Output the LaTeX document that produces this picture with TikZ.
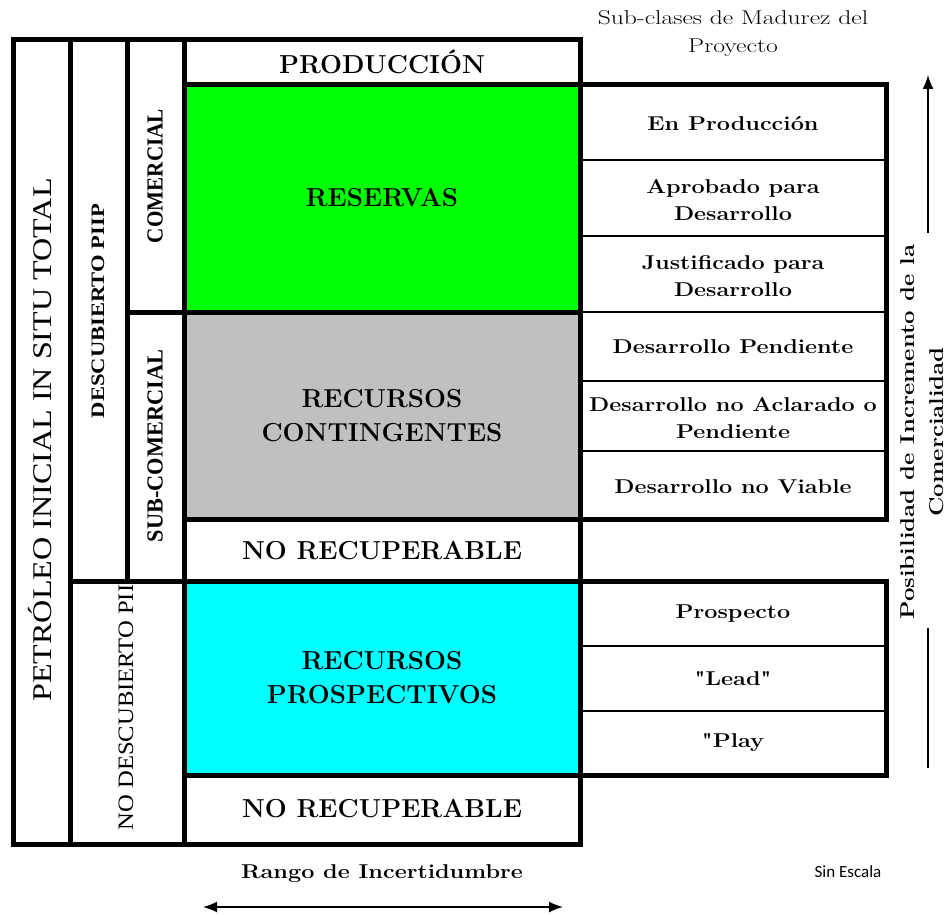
\documentclass[tikz,border=0pt]{standalone}
\usepackage{fontspec}
\newfontfamily\carlito{Carlito}
\newfontfamily\timesfont{Liberation Serif}
\usetikzlibrary{arrows.meta}
\definecolor{contgray}{RGB}{192,192,192}
\definecolor{resgreen}{RGB}{0,255,0}
\definecolor{prospcyan}{RGB}{0,255,255}

\begin{document}
\begin{tikzpicture}
  [x=1pt,y=-1pt,
   thickline/.style={line width=5pt},
   thinline/.style={line width=2.8pt},
   arrowline/.style={line width=1.6pt},
   widen/.style={xscale=#1, transform shape},
   biglabel/.style={font=\fontsize{26}{34}\selectfont\bfseries, align=center},
   sublabel/.style={font=\fontsize{20}{27}\selectfont\bfseries, align=center},
   sidelabel/.style={rotate=90, align=center}]
  \useasboundingbox (0,0) rectangle (951,915);

  % fills
  \fill[resgreen]  (184,85)  rectangle (580,312);
  \fill[contgray]  (184,312) rectangle (580,519);
  \fill[prospcyan] (184,581) rectangle (580,775);

  % frame and columns
  \draw[thickline] (13,40) rectangle (580,844);
  \foreach \x/\ya/\yb in {70/40/844, 127/40/581, 184/40/844}
    \draw[thickline] (\x,\ya) -- (\x,\yb);
  \foreach \xa/\y in {184/85, 127/312, 184/519, 70/581, 184/775}
    \draw[thickline] (\xa,\y) -- (580,\y);

  % sub-class tables
  \draw[thickline] (580,85) rectangle (886,519);
  \draw[thickline] (580,581) rectangle (886,775);
  \foreach \y in {160,236,312,381,451,646,711}
    \draw[thinline] (580,\y) -- (886,\y);

  % main labels
  \node[biglabel] (prod)   at (382,62)  {PRODUCCIÓN};
  \node[biglabel] (res)    at (382,198) {RESERVAS};
  \node[biglabel] (cont)   at (382,416) {RECURSOS\\CONTINGENTES};
  \node[biglabel] (norecA) at (382,551) {NO RECUPERABLE};
  \node[biglabel] (prosp)  at (382,678) {RECURSOS\\PROSPECTIVOS};
  \node[biglabel] (norecB) at (382,809) {NO RECUPERABLE};

  % sub-class labels
  \foreach \name/\y/\txt in {enprod/124/{En Producción},
      aprob/200/{Aprobado para\\Desarrollo},
      justif/276/{Justificado para\\Desarrollo},
      pend/347/{Desarrollo Pendiente},
      aclar/418/{Desarrollo no Aclarado o\\Pendiente},
      noviab/487/{Desarrollo no Viable},
      prospecto/614/{Prospecto},
      lead/679/{\textquotedbl Lead\textquotedbl},
      play/743/{\textquotedbl Play}}
    \node[sublabel, widen=1.17] (\name) at (733,\y) {\txt};

  % side labels
  \node[sidelabel, font=\fontsize{27}{30}\timesfont] (total) at (40,440)
    {\scalebox{1.19}[1]{PETRÓLEO INICIAL IN SITU TOTAL}};
  \node[sidelabel, font=\fontsize{19}{22}\timesfont\bfseries] (desc) at (98,311)
    {\scalebox{1.19}[1]{DESCUBIERTO PIIP}};
  \node[sidelabel, font=\fontsize{23}{26}\timesfont\bfseries] (com) at (155,176)
    {\scalebox{0.92}[1]{COMERCIAL}};
  \node[sidelabel, font=\fontsize{23}{26}\timesfont\bfseries] (subcom) at (155,446)
    {\scalebox{0.97}[1]{SUB-COMERCIAL}};
  \begin{scope}
    \clip (73,584) rectangle (181,841);
    \node[sidelabel, anchor=west, font=\fontsize{22}{24}\timesfont] (nodesc) at (126,834)
      {\scalebox{1.12}[1]{NO DESCUBIERTO PIIP}};
  \end{scope}

  % header and notes
  \node[align=center, font=\fontsize{20}{28}\selectfont, widen=1.28] (madurez) at (733,34)
    {Sub-clases de Madurez del\\Proyecto};
  \node[sidelabel, font=\fontsize{20}{29}\selectfont\bfseries, widen=1.2] (posib) at (922,432)
    {Posibilidad de Incremento de la\\Comercialidad};
  \node[sublabel, widen=1.17] (rango) at (382,874) {Rango de Incertidumbre};
  \node[font=\fontsize{17}{20}\carlito] (escala) at (848,872) {Sin Escala};

  % arrows
  \coordinate (upTail) at (928,233);
  \coordinate (upHead) at (928,75);
  \coordinate (lowTop) at (928,628);
  \coordinate (lowBot) at (928,768);
  \coordinate (rangoL) at (203,907);
  \coordinate (rangoR) at (563,907);
  \draw[arrowline, -{Latex[length=14pt,width=11pt]}] (upTail) -- (upHead);
  \draw[arrowline] (lowTop) -- (lowBot);
  \draw[arrowline, {Latex[length=14pt,width=11pt]}-{Latex[length=14pt,width=11pt]}] (rangoL) -- (rangoR);
\end{tikzpicture}
\end{document}
